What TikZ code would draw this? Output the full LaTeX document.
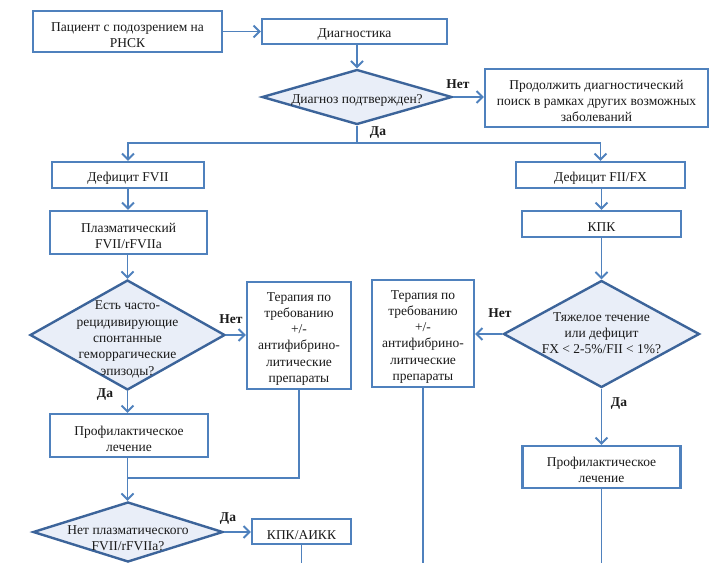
\documentclass[tikz,border=0pt]{standalone}
\usepackage{fontspec}
\setmainfont{Liberation Serif}
\usetikzlibrary{shapes.geometric,arrows.meta}
\definecolor{boxblue}{HTML}{4F81BD}
\definecolor{diablue}{HTML}{3C649A}
\definecolor{diafill}{HTML}{E9EEF8}
\definecolor{txt}{HTML}{1A1A1A}
\newcommand{\mainfs}{\fontsize{13.5}{16.3}\selectfont}
\newcommand{\tu}{\rule{0pt}{15.5pt}}
\tikzset{
  box/.style={draw=boxblue, line width=2.2pt, fill=white, inner sep=2pt, align=center, text=txt},
  dia/.style={diamond, draw=diablue, line width=2.4pt, fill=diafill, inner sep=0pt, aspect=1},
  diatext/.style={align=center, text=txt, inner sep=0pt},
  conn/.style={draw=boxblue, line width=1.9pt},
  arr/.style={conn, -{Straight Barb[length=6pt,width=12pt,line width=1.9pt]}},
  lab/.style={font=\mainfs\bfseries, text=txt, inner sep=0pt},
}
\begin{document}
\begin{tikzpicture}[x=1pt,y=-1pt,font=\mainfs]
\useasboundingbox (0,0) rectangle (720,563);
% boxes
\node[box, minimum width=189, minimum height=41] (p1) at (127.5,31.5) {\tu Пациент с подозрением на\\РНСК};
\node[box, minimum width=185, minimum height=25] (diag) at (354.5,31.5) {\tu Диагностика};
\node[dia, minimum width=190, minimum height=55] (d1) at (357,97) {};
\node[diatext] (d1t) at (357,97) {\tu Диагноз подтвержден?};
\node[box, minimum width=223, minimum height=58] (cont) at (596.5,98) {\tu Продолжить диагностический\\поиск в рамках других возможных\\заболеваний};
\coordinate (j1) at (357,143);
% left branch
\node[box, minimum width=152, minimum height=26] (fvii) at (128,175) {\tu Дефицит FVII};
\node[box, minimum width=157, minimum height=43] (plasma) at (128.5,232.5) {\tu Плазматический\\FVII/rFVIIa};
\node[dia, minimum width=195, minimum height=110] (d2) at (127.5,335) {};
\node[diatext] (d2t) at (127.5,336) {\tu Есть часто-\\рецидивирующие\\спонтанные\\геморрагические\\эпизоды?};
\node[box, minimum width=104, minimum height=107] (ter1) at (299,335.5) {\tu Терапия по\\требованию\\+/-\\антифибрино-\\литические\\препараты};
\node[box, minimum width=158, minimum height=43] (prof1) at (129,435.5) {\tu Профилактическое\\лечение};
\coordinate (j2) at (127.5,478);
\node[dia, minimum width=190, minimum height=60] (d3) at (128,532) {};
\node[diatext] (d3t) at (128,535) {\tu Нет плазматического\\FVII/rFVIIa?};
\node[box, minimum width=99, minimum height=25] (kpk2) at (301.5,531.5) {\tu КПК/АИКК};
\coordinate (e1) at (301.5,563);
% right branch
\node[box, minimum width=169, minimum height=26] (fii) at (600.5,175) {\tu Дефицит FII/FX};
\node[box, minimum width=159, minimum height=26] (kpk) at (601.5,224) {\tu КПК};
\node[dia, minimum width=196, minimum height=107] (d4) at (601.5,334) {};
\node[diatext] (d4t) at (601.5,330) {\tu Тяжелое течение\\или дефицит\\FX < 2-5\%/FII < 1\%?};
\node[box, minimum width=102, minimum height=107] (ter2) at (423,333.5) {\tu Терапия по\\требованию\\+/-\\антифибрино-\\литические\\препараты};
\node[box, minimum width=158, minimum height=42] (prof2) at (601.5,467) {\tu Профилактическое\\лечение};
\coordinate (e2) at (423,563);
\coordinate (e3) at (601.5,563);
% connectors
\draw[arr] (p1.east) -- (diag.west);
\draw[arr] (diag.south -| d1.north) -- (d1.north);
\draw[arr] (d1.east) -- (d1.east -| cont.west);
\draw[conn] (d1.south) -- (j1);
\draw[arr] (j1) -| (fvii.north);
\draw[arr] (j1) -| (fii.north);
\draw[arr] (fvii.south) -- (plasma.north -| fvii.south);
\draw[arr] (plasma.south -| d2.north) -- (d2.north);
\draw[arr] (d2.east) -- (d2.east -| ter1.west);
\draw[arr] (d2.south) -- (d2.south |- prof1.north);
\draw[conn] (prof1.south -| j2) -- (j2);
\draw[conn] (ter1.south) |- (j2);
\draw[arr] (j2) -- (d3.north -| j2);
\draw[arr] (d3.east) -- (d3.east -| kpk2.west);
\draw[conn] (kpk2.south) -- (e1);
\draw[arr] (fii.south -| kpk.north) -- (kpk.north);
\draw[arr] (kpk.south) -- (d4.north);
\draw[arr] (d4.west) -- (d4.west -| ter2.east);
\draw[conn] (ter2.south) -- (e2);
\draw[arr] (d4.south) -- (prof2.north);
\draw[conn] (prof2.south) -- (e3);
% labels
\node[lab] (l1) at (458,84) {Нет};
\node[lab] (l2) at (378,133) {Да};
\node[lab] (l3) at (231,319) {Нет};
\node[lab] (l4) at (105,395) {Да};
\node[lab] (l5) at (228,519) {Да};
\node[lab] (l6) at (500,313) {Нет};
\node[lab] (l7) at (619,404) {Да};
\end{tikzpicture}
\end{document}
